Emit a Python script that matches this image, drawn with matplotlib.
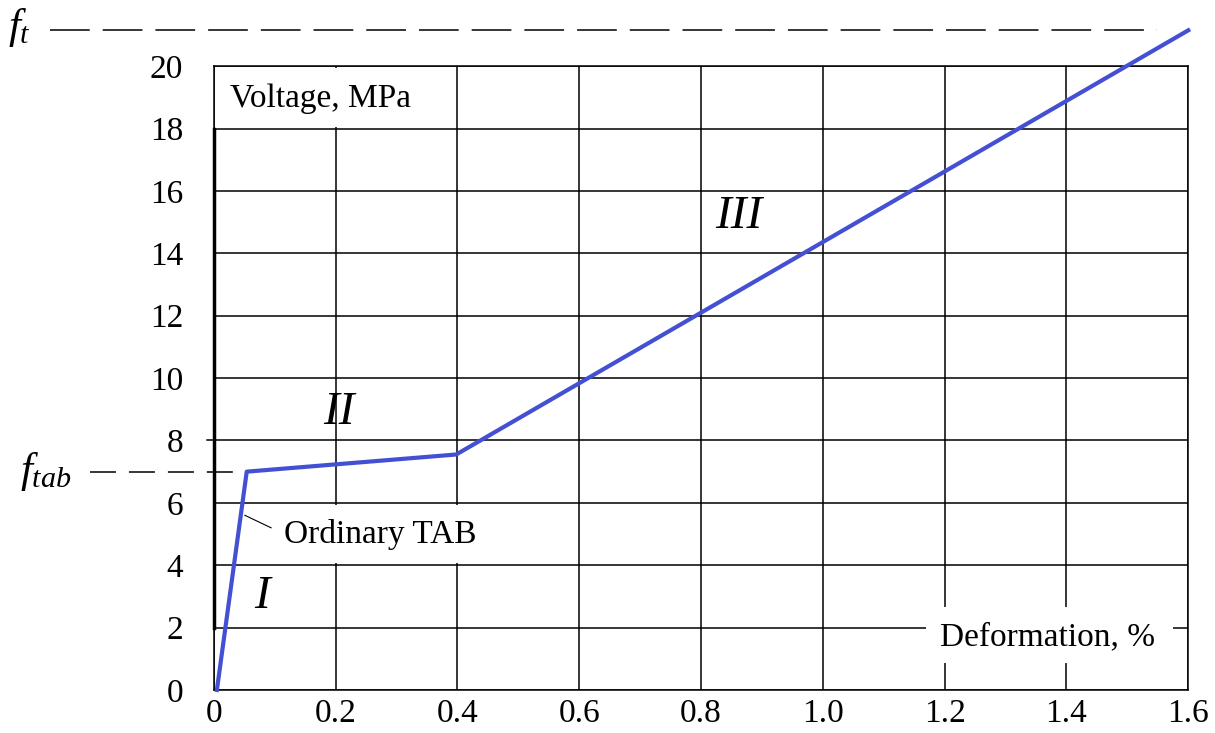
import matplotlib
matplotlib.use("Agg")
import matplotlib.pyplot as plt
from matplotlib.patches import Rectangle

# curve points (deformation %, voltage MPa)
deformation = [0.005, 0.054, 0.398, 1.6]
voltage = [0.0, 7.0, 7.55, 21.15]

f_t = 21.15
f_tab = 7.0

x_ticks = [0, 0.2, 0.4, 0.6, 0.8, 1.0, 1.2, 1.4, 1.6]
x_tick_labels = ["0", "0.2", "0.4", "0.6", "0.8", "1.0", "1.2", "1.4", "1.6"]
y_ticks = [0, 2, 4, 6, 8, 10, 12, 14, 16, 18, 20]

plt.rcParams['font.family'] = ['Liberation Serif', 'DejaVu Serif']
plt.rcParams['mathtext.fontset'] = 'custom'
plt.rcParams['mathtext.it'] = 'Liberation Serif:italic'
plt.rcParams['mathtext.rm'] = 'Liberation Serif'

fig = plt.figure(figsize=(12.15, 7.33), dpi=100)
ax = fig.add_axes([0.176, 0.0587, 0.802, 0.851])

ax.set_xlim(0, 1.6)
ax.set_ylim(0, 20)
ax.set_xticks(x_ticks)
ax.set_xticklabels(x_tick_labels)
ax.set_yticks(y_ticks)
ax.tick_params(axis='both', length=0, labelsize=24)
ax.tick_params(axis='y', pad=22)
ax.tick_params(axis='x', pad=6)
ax.grid(True, color='black', linewidth=1.1)
ax.set_axisbelow(True)
for s in ax.spines.values():
    s.set_linewidth(1.1)

# blank patches of the grid behind the labels
for x0, y0, w, h in [(0.004, 4.06, 0.59, 1.88), (0.004, 18.06, 0.39, 1.88),
                     (1.17, 0.87, 0.405, 1.79)]:
    ax.add_patch(Rectangle((x0, y0), w, h, facecolor='white', edgecolor='none', zorder=1.5))

# thick part of the left axis
ax.plot([0, 0], [2, 18], color='black', linewidth=2.5, zorder=2, clip_on=False)
ax.plot([-0.012, 0], [8, 8], color='black', linewidth=1.1, clip_on=False)

# reference levels
ax.plot([-0.269, 1.548], [f_t, f_t], color='black', linewidth=1.1,
        linestyle=(0, (26, 8.5)), clip_on=False)
ax.plot([-0.203, deformation[1]], [f_tab, f_tab], color='black', linewidth=1.1,
        linestyle=(0, (17, 8.5)), clip_on=False)
ax.text(-0.338, f_t + 0.1, "$f_t$", fontsize=31, ha='left', va='center')
ax.text(-0.318, f_tab, "$f_{tab}$", fontsize=31, ha='left', va='center')

ax.plot(deformation, voltage, color='#4350d3', linewidth=3, clip_on=False, zorder=5)

ax.text(0.026, 18.97, "Voltage, MPa", fontsize=24, ha='left', va='center', zorder=3)
ax.text(1.192, 1.7, "Deformation, %", fontsize=24, ha='left', va='center', zorder=3)
ax.text(0.116, 5.0, "Ordinary TAB", fontsize=24, ha='left', va='center', zorder=3)
ax.plot([0.051, 0.094], [5.6, 5.2], color='black', linewidth=0.8, zorder=4)

ax.text(0.08, 2.98, "I", fontsize=34, style='italic', ha='center', va='center')
ax.text(0.206, 8.88, "II", fontsize=34, style='italic', ha='center', va='center')
ax.text(0.862, 15.16, "III", fontsize=34, style='italic', ha='center', va='center')

fig.savefig("out.png", dpi=100)
